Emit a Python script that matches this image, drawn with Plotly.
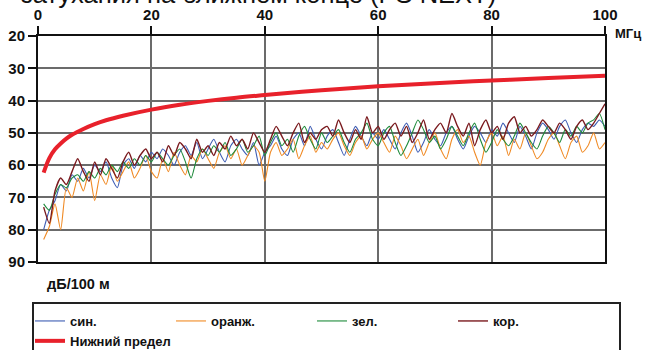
import plotly.graph_objects as go

freq = list(range(1, 101))

blue = [80, 74, 71, 66, 68, 63, 65, 61, 64, 60,
        62, 59, 64, 67, 60, 58, 61, 57, 59, 56,
        58, 55, 57, 60, 56, 54, 57, 53, 58, 55,
        52, 56, 59, 54, 52, 55, 57, 53, 60, 56,
        54, 51, 55, 57, 52, 50, 54, 48, 52, 55,
        51, 49, 53, 57, 52, 48, 51, 54, 50, 52,
        49, 52, 55, 50, 47, 51, 56, 53, 49, 52,
        54, 50, 48, 52, 55, 51, 48, 50, 53, 49,
        51, 47, 50, 53, 48, 51, 55, 50, 47, 49,
        52, 48, 46, 50, 53, 49, 47, 48, 46, 48]

orange = [83, 79, 72, 80, 67, 70, 64, 68, 62, 71,
          63, 66, 60, 65, 62, 59, 64, 61, 57, 62,
          64, 58, 62, 56, 60, 63, 57, 59, 55, 58,
          61, 56, 54, 58, 55, 60, 57, 54, 56, 65,
          56, 53, 57, 55, 52, 58, 54, 51, 56, 53,
          55, 52, 50, 54, 57, 53, 51, 55, 52, 50,
          53, 56, 51, 54, 58, 55, 52, 57, 53, 50,
          55, 58, 52, 49, 53, 51, 56, 60, 53, 50,
          54, 51, 57, 52, 55, 50, 54, 58, 56, 52,
          50, 54, 58, 53, 51, 56, 54, 50, 55, 53]

green = [72, 74, 69, 66, 67, 64, 63, 65, 62, 64,
         61, 63, 60, 62, 59, 61, 58, 60, 57, 59,
         56, 58, 60, 57, 55, 59, 64, 58, 55, 57,
         54, 56, 53, 57, 55, 52, 56, 54, 51, 57,
         53, 50, 54, 52, 56, 51, 48, 52, 55, 50,
         53, 51, 49, 53, 56, 52, 50, 47, 52, 54,
         50, 48, 53, 57, 54, 50, 46, 49, 53, 51,
         55, 52, 48, 51, 54, 50, 47, 52, 56, 53,
         49, 52, 54, 51, 47, 50, 53, 55, 51, 48,
         50, 53, 49, 51, 48, 50, 47, 46, 44, 49]

brown = [73, 78, 68, 64, 66, 62, 58, 62, 65, 59,
         63, 58, 61, 64, 59, 56, 60, 57, 55, 58,
         56, 59, 54, 57, 53, 55, 58, 52, 56, 54,
         57, 53, 55, 51, 54, 52, 55, 50, 53, 56,
         52, 48, 51, 54, 50, 47, 53, 50, 52, 49,
         48, 51, 46, 50, 53, 49, 52, 45, 50, 48,
         52, 49, 47, 51, 48, 53, 50, 46, 52, 49,
         47, 50, 44, 48, 51, 47, 54, 49, 46, 50,
         48, 52, 47, 45, 50, 48, 51, 49, 46, 48,
         50, 47, 49, 52, 48, 46, 49, 47, 44, 41]

limit_freq = [1, 2, 3, 4, 5, 6, 8, 10, 12, 15, 20, 25, 30, 35, 40, 50, 60, 70, 80, 90, 100]
limit_vals = [62.3, 57.8, 55.1, 53.3, 51.8, 50.6, 48.8, 47.3, 46.1, 44.7, 42.8, 41.3, 40.1,
              39.1, 38.3, 36.8, 35.6, 34.6, 33.8, 33.0, 32.3]

x_ticks = [0, 20, 40, 60, 80, 100]
y_ticks = [20, 30, 40, 50, 60, 70, 80, 90]

names = ["син.", "оранж.", "зел.", "кор."]
colors = ["#3d5cb3", "#f08a24", "#1d8a3a", "#7a1a1e"]
widths = [1.1, 1.1, 1.1, 1.4]
series = [blue, orange, green, brown]

FONT = "Liberation Sans, Arial, sans-serif"
W, H = 648, 350
L, R, T, B = 38, 43, 36, 88
PW, PH = W - L - R, H - T - B


def px_x(px):
    return (px - L) / PW


def px_y(py):
    return (H - B - py) / PH


fig = go.Figure()
for n, c, w, s in zip(names, colors, widths, series):
    fig.add_trace(go.Scatter(x=freq, y=s, name=n, mode="lines",
                             line=dict(color=c, width=w, shape="spline", smoothing=0.6)))
fig.add_trace(go.Scatter(x=limit_freq, y=limit_vals, name="Нижний предел", mode="lines",
                         line=dict(color="#e8212b", width=4, shape="spline")))

fig.update_layout(
    width=W, height=H,
    margin=dict(l=L, r=R, t=T, b=B, autoexpand=False),
    paper_bgcolor="white", plot_bgcolor="white",
    font=dict(family=FONT, size=13, color="#111"),
    showlegend=True,
    legend=dict(orientation="h", xref="container", yref="container",
                x=30 / W, xanchor="left", y=1 - 306 / H, yanchor="top",
                entrywidth=96, entrywidthmode="pixels", itemwidth=30,
                borderwidth=0, bgcolor="rgba(0,0,0,0)",
                font=dict(family=FONT, size=13, color="#111", weight="bold"),
                tracegroupgap=0, traceorder="normal"),
    xaxis=dict(range=[0, 100], side="top", tickvals=x_ticks, ticktext=[str(v) for v in x_ticks],
               showgrid=True, gridcolor="#6b6b6b", gridwidth=1.5,
               showline=True, linecolor="#111", linewidth=2, mirror=True,
               ticks="outside", ticklen=8, tickcolor="#111", tickwidth=1.5,
               tickfont=dict(family=FONT, size=15, color="#111", weight="bold"),
               zeroline=False, fixedrange=True, automargin=False),
    yaxis=dict(range=[90, 20], tickvals=y_ticks, ticktext=[str(v) for v in y_ticks],
               showgrid=True, gridcolor="#6b6b6b", gridwidth=1.5,
               showline=True, linecolor="#111", linewidth=2, mirror=True,
               ticks="outside", ticklen=8, tickcolor="#111", tickwidth=2,
               tickfont=dict(family=FONT, size=15, color="#111", weight="bold"),
               zeroline=False, fixedrange=True, automargin=False),
)

# legend frame
fig.add_shape(type="rect", xref="paper", yref="paper",
              x0=px_x(33), x1=px_x(620), y0=px_y(303), y1=px_y(358),
              line=dict(color="#222", width=2), fillcolor="rgba(0,0,0,0)", layer="above")

fig.add_annotation(text="затухания на ближнем конце (PS NEXT)", xref="paper", yref="paper",
                   x=px_x(498), y=px_y(10), xanchor="right", yanchor="bottom",
                   showarrow=False, font=dict(family=FONT, size=25.5, color="#111"))
fig.add_annotation(text="МГц", xref="paper", yref="paper", x=px_x(613), y=px_y(33),
                   xanchor="left", yanchor="middle", showarrow=False,
                   font=dict(family=FONT, size=13, color="#111", weight="bold"))
fig.add_annotation(text="дБ/100 м", xref="paper", yref="paper", x=px_x(45), y=px_y(284),
                   xanchor="left", yanchor="middle", showarrow=False,
                   font=dict(family=FONT, size=14.5, color="#111", weight="bold"))

fig.write_html("out.html")
